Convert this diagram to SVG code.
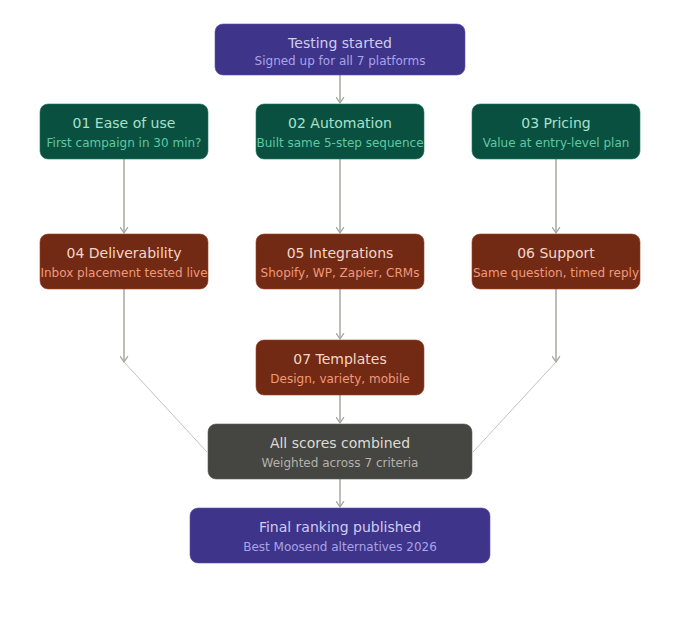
<svg xmlns="http://www.w3.org/2000/svg" width="680" height="620" viewBox="0 0 680 620">
<defs>
<marker id="ah" viewBox="0 0 10 10" refX="8" refY="5" markerWidth="6" markerHeight="6" orient="auto-start-reverse"><path d="M2 1L8 5L2 9" fill="none" stroke="#a8a8a2" stroke-width="1.5" stroke-linecap="round" stroke-linejoin="round"/></marker>
<style>
text{font-family:"DejaVu Sans",sans-serif;text-anchor:middle;dominant-baseline:central}
.t{font-size:14px}.s{font-size:12px}
.pu rect{fill:#3e348a;stroke:#5a50b0;stroke-width:0.6}.pu .t{fill:#d0ccf0}.pu .s{fill:#a9a3e8}
.gr rect{fill:#0a5040;stroke:#1d7a5e;stroke-width:0.6}.gr .t{fill:#a8e0cc}.gr .s{fill:#5cc9a0}
.br rect{fill:#722a14;stroke:#994426;stroke-width:0.6}.br .t{fill:#f5d6c8}.br .s{fill:#f0997b}
.gy rect{fill:#454541;stroke:#5f5e5a;stroke-width:0.6}.gy .t{fill:#dedcd4}.gy .s{fill:#b4b2a9}
.c{stroke:#a8a8a2;stroke-width:1.5;fill:none}
.c2{stroke:#b4b2a9;stroke-width:0.8;fill:none}
</style>
</defs>
<rect width="680" height="620" fill="#fff"/>
<g id="connectors">
<line class="c" x1="340" y1="75" x2="340" y2="103" marker-end="url(#ah)"/>
<line class="c" x1="124" y1="159" x2="124" y2="233" marker-end="url(#ah)"/>
<line class="c" x1="340" y1="159" x2="340" y2="233" marker-end="url(#ah)"/>
<line class="c" x1="556" y1="159" x2="556" y2="233" marker-end="url(#ah)"/>
<line class="c" x1="124" y1="289" x2="124" y2="362" marker-end="url(#ah)"/>
<line class="c" x1="556" y1="289" x2="556" y2="362" marker-end="url(#ah)"/>
<line class="c" x1="340" y1="289" x2="340" y2="339" marker-end="url(#ah)"/>
<line class="c" x1="340" y1="395" x2="340" y2="423" marker-end="url(#ah)"/>
<line class="c" x1="340" y1="479" x2="340" y2="507" marker-end="url(#ah)"/>
<line class="c2" x1="124" y1="362" x2="207" y2="452"/>
<line class="c2" x1="556" y1="362" x2="473" y2="452"/>
</g>
<g id="start" class="pu"><rect x="215" y="24" width="250" height="51" rx="8"/><text class="t" x="340" y="43">Testing started</text><text class="s" x="340" y="61">Signed up for all 7 platforms</text></g>
<g id="n01" class="gr"><rect x="40" y="104" width="168" height="55" rx="8"/><text class="t" x="124" y="123">01 Ease of use</text><text class="s" x="124" y="143">First campaign in 30 min?</text></g>
<g id="n02" class="gr"><rect x="256" y="104" width="168" height="55" rx="8"/><text class="t" x="340" y="123">02 Automation</text><text class="s" x="340" y="143">Built same 5-step sequence</text></g>
<g id="n03" class="gr"><rect x="472" y="104" width="168" height="55" rx="8"/><text class="t" x="556" y="123">03 Pricing</text><text class="s" x="556" y="143">Value at entry-level plan</text></g>
<g id="n04" class="br"><rect x="40" y="234" width="168" height="55" rx="8"/><text class="t" x="124" y="253">04 Deliverability</text><text class="s" x="124" y="273">Inbox placement tested live</text></g>
<g id="n05" class="br"><rect x="256" y="234" width="168" height="55" rx="8"/><text class="t" x="340" y="253">05 Integrations</text><text class="s" x="340" y="273">Shopify, WP, Zapier, CRMs</text></g>
<g id="n06" class="br"><rect x="472" y="234" width="168" height="55" rx="8"/><text class="t" x="556" y="253">06 Support</text><text class="s" x="556" y="273">Same question, timed reply</text></g>
<g id="n07" class="br"><rect x="256" y="340" width="168" height="55" rx="8"/><text class="t" x="340" y="359">07 Templates</text><text class="s" x="340" y="379">Design, variety, mobile</text></g>
<g id="combined" class="gy"><rect x="208" y="424" width="264" height="55" rx="8"/><text class="t" x="340" y="443">All scores combined</text><text class="s" x="340" y="463">Weighted across 7 criteria</text></g>
<g id="final" class="pu"><rect x="190" y="508" width="300" height="55" rx="8"/><text class="t" x="340" y="527">Final ranking published</text><text class="s" x="340" y="547">Best Moosend alternatives 2026</text></g>
</svg>
